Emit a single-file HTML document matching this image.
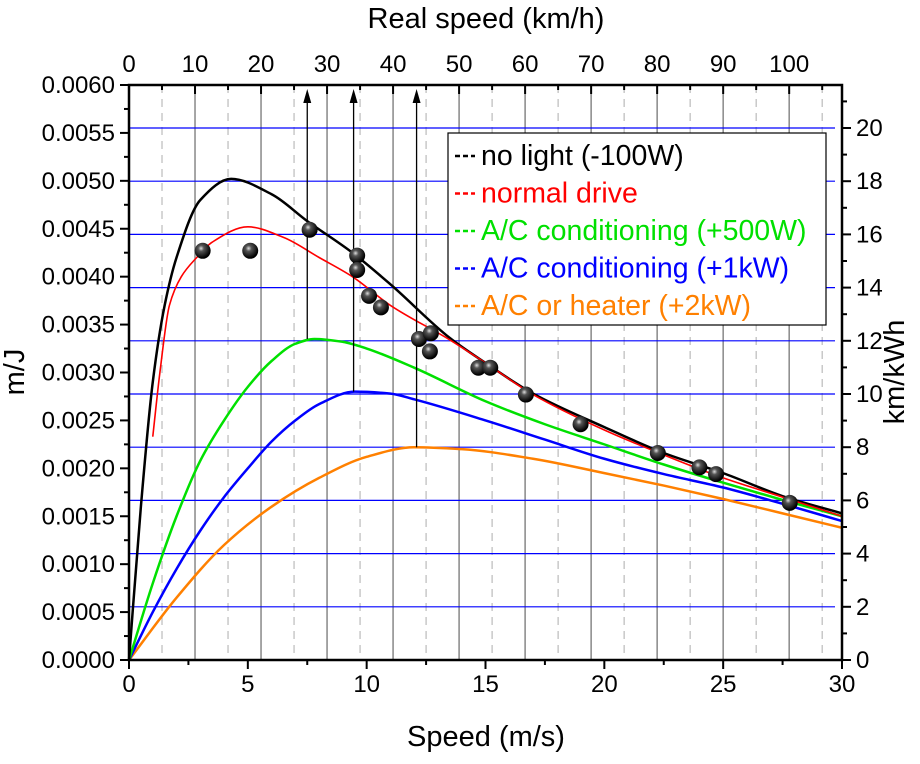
<!DOCTYPE html>
<html><head><meta charset="utf-8"><style>
body{margin:0;background:#fff;font-family:"Liberation Sans",Arial,sans-serif}
svg text{font-family:"Liberation Sans",Arial,sans-serif}
</style></head><body>
<svg id="chart" width="920" height="759" xmlns="http://www.w3.org/2000/svg">
<g id="grid"></g><g id="curves"></g><g id="points"></g><g id="axes"></g>
</svg>
<script>
const blackX=[0,0.5,1,1.5,2,3,4.3,6,7.5,9.4,11,13.5,15,17,20,22.5,25,27.5,30];
const blackY=[0,0.0016,0.0029,0.0037,0.0042,0.0048,0.00502,0.00486,0.00458,0.00425,0.00392,0.00336,0.0031,0.00278,0.00243,0.00216,0.00195,0.00171,0.00153];
const redX=[1,1.3,1.7,2.2,2.85,3.5,5.0,6.5,8,9.4,11,13.5,15,17,20,22.5,25,27.5,30];
const redY=[0.00233,0.0030,0.0037,0.0040,0.0042,0.00436,0.00452,0.00441,0.0042,0.0040,0.0037,0.00334,0.0031,0.00277,0.0024,0.00214,0.0019,0.0017,0.0015];
const greenX=[0,1,2,3,4,5,6,7,7.8,9,10,12,15,17.5,20,22.5,25,27.5,30];
const greenY=[0,0.0008,0.0015,0.00208,0.0025,0.00285,0.00312,0.0033,0.00335,0.00332,0.00325,0.00305,0.0027,0.00246,0.00225,0.00204,0.00185,0.00167,0.0015];
const blueX=[0,1,2,3,4,5,6,7,8,9.5,11,12,15,17.5,20,22.5,25,27.5,30];
const blueY=[0,0.0005,0.00095,0.00135,0.0017,0.002,0.00228,0.0025,0.00267,0.0028,0.00278,0.00272,0.0025,0.0023,0.0021,0.00194,0.0018,0.00163,0.00145];
const orangeX=[0,2,4,6,8,10,12,14,17,20,22.5,25,27.5,30];
const orangeY=[0,0.00065,0.0012,0.0016,0.0019,0.00212,0.00222,0.0022,0.0021,0.00195,0.00182,0.00168,0.00153,0.00138];
const ptX=[3.1,5.1,7.6,9.6,9.6,10.1,10.6,12.2,12.7,12.66,14.7,15.2,16.7,19.0,22.25,24.0,24.7,27.8];
const ptY=[0.00427,0.00427,0.00449,0.00422,0.00407,0.0038,0.00368,0.00335,0.00341,0.00322,0.00305,0.00305,0.00277,0.00246,0.00216,0.00201,0.00194,0.00164];
const arrowX=[7.5,9.45,12.1];
const arrowY=[0.00335,0.0028,0.00222];
const bottomTicks=[0,5,10,15,20,25,30];
const leftTicks=[0,0.0005,0.001,0.0015,0.002,0.0025,0.003,0.0035,0.004,0.0045,0.005,0.0055,0.006];
const rightTicks=[0,2,4,6,8,10,12,14,16,18,20];
const topTicks=[0,10,20,30,40,50,60,70,80,90,100];

const X0=129,X1=842,Y0=660,Y1=85;
const sx=v=>X0+(X1-X0)*v/30;
const sy=v=>Y0-(Y0-Y1)*v/0.006;
const sk=v=>sx(v/3.6);
const sr=v=>Y0-(Y0-128)*v/20;
const NS="http://www.w3.org/2000/svg";
function mk(tag,attrs,parent){const e=document.createElementNS(NS,tag);for(const k in attrs)e.setAttribute(k,attrs[k]);parent.appendChild(e);return e;}
const grid=document.getElementById('grid'),curves=document.getElementById('curves'),pts=document.getElementById('points'),axes=document.getElementById('axes');

for(let k=5;k<108;k+=5){const x=sk(k);const major=k%10===0;
 const l=mk('line',{x1:x,x2:x,y1:Y1,y2:Y0,stroke:major?'#888':'#bbb','stroke-width':major?1.5:1.2,'stroke-dasharray':major?'':'8,6'},grid);
 
 }
rightTicks.forEach(v=>{if(v===0)return;const y=sr(v);
 const l=mk('line',{x1:X0,x2:835,y1:y,y2:y,stroke:'#0000ff','stroke-width':1.2},grid);
 
 });

function smooth(xs,ys){const p=xs.map((x,i)=>[sx(x),sy(ys[i])]);const n=p.length;
 const d=[];for(let i=0;i<n-1;i++)d.push((p[i+1][1]-p[i][1])/(p[i+1][0]-p[i][0]));
 const m=[];m[0]=d[0];m[n-1]=d[n-2];
 for(let i=1;i<n-1;i++){if(d[i-1]*d[i]<=0)m[i]=0;else{const h0=p[i][0]-p[i-1][0],h1=p[i+1][0]-p[i][0];const w1=2*h1+h0,w2=h1+2*h0;m[i]=(w1+w2)/(w1/d[i-1]+w2/d[i]);}}
 let s='M'+p[0][0]+','+p[0][1];
 for(let i=0;i<n-1;i++){const h=p[i+1][0]-p[i][0];
  s+=` C${p[i][0]+h/3},${p[i][1]+m[i]*h/3} ${p[i+1][0]-h/3},${p[i+1][1]-m[i+1]*h/3} ${p[i+1][0]},${p[i+1][1]}`;}
 return s;}
const series=[[orangeX,orangeY,'#ff8000','orange-curve',2.5],[blueX,blueY,'#0000ff','blue-curve',2.5],[greenX,greenY,'#00e000','green-curve',2.5],[blackX,blackY,'#000','black-curve',2.5],[redX,redY,'#ff0000','red-curve',1.6]];
series.forEach(s=>{const p=mk('path',{d:smooth(s[0],s[1]),fill:'none',stroke:s[2],'stroke-width':s[4]},curves);
 
 });
arrowX.forEach((v,i)=>{const x=sx(v);
 const l=mk('line',{x1:x,x2:x,y1:sy(arrowY[i]),y2:100,stroke:'#000','stroke-width':1.3},curves);
 
 
 const h=mk('polygon',{points:`${x-4},103 ${x+4},103 ${x},89`,fill:'#000'},curves);
 
 });
const defs=mk('defs',{},pts);
const rg=mk('radialGradient',{id:'ball',cx:'0.4',cy:'0.35',r:'0.6'},defs);
mk('stop',{offset:'0','stop-color':'#ddd'},rg);mk('stop',{offset:'0.3','stop-color':'#555'},rg);mk('stop',{offset:'1','stop-color':'#000'},rg);
ptX.forEach((v,i)=>{const c=mk('circle',{cx:sx(v),cy:sy(ptY[i]),r:8,fill:'url(#ball)'},pts);
 
 });

const fr=mk('rect',{x:X0,y:Y1,width:X1-X0,height:Y0-Y1,fill:'none',stroke:'#000','stroke-width':2.5},axes);


function txt(x,y,s,anchor,size,name,extra){const t=mk('text',Object.assign({x:x,y:y,'text-anchor':anchor,'font-size':size,fill:'#000'},extra||{}),axes);t.textContent=s;
 
 return t;}
for(let v=0;v<=30;v+=2.5){const x=sx(v);const major=v%5===0;mk('line',{x1:x,x2:x,y1:Y0,y2:Y0+(major?9:5),stroke:'#000','stroke-width':2},axes);}
bottomTicks.forEach(v=>txt(sx(v),Y0+32,String(v),'middle',24,'x-tick-label'));
txt(486,746,'Speed (m/s)','middle',29,'x-axis-title');
for(let v=0;v<=0.006001;v+=0.00025){const y=sy(v);const major=Math.round(v/0.00025)%2===0;mk('line',{x1:X0,x2:X0-(major?9:5),y1:y,y2:y,stroke:'#000','stroke-width':2},axes);}
leftTicks.forEach(v=>txt(X0-14,sy(v)+8,v.toFixed(4),'end',24,'y-tick-label'));
txt(24,372,'m/J','middle',29,'y-axis-title',{transform:'rotate(-90 24 372)'});
for(let v=0;v<=21;v++){const y=sr(v);const major=v%2===0;mk('line',{x1:X1,x2:X1+(major?9:5),y1:y,y2:y,stroke:'#000','stroke-width':2},axes);}
rightTicks.forEach(v=>txt(X1+14,sr(v)+8,String(v),'start',24,'right-tick-label'));
txt(904,372,'km/kWh','middle',29,'right-axis-title',{transform:'rotate(-90 904 372)'});
for(let k=0;k<=105;k+=5){const x=sk(k);const major=k%10===0;mk('line',{x1:x,x2:x,y1:Y1,y2:Y1+(major?9:5),stroke:'#000','stroke-width':2},axes);}
topTicks.forEach(v=>txt(sk(v),72,String(v),'middle',24,'top-tick-label'));
txt(486,28,'Real speed (km/h)','middle',29,'top-axis-title');
const lg=mk('rect',{x:448,y:133,width:378,height:192,fill:'#fff',stroke:'#000','stroke-width':1.2},axes);


const legendText=['no light (-100W)','normal drive','A/C conditioning (+500W)','A/C conditioning (+1kW)','A/C or heater (+2kW)'];
const legendColor=['#000','#ff0000','#00e000','#0000ff','#ff8000'];
legendText.forEach((s,i)=>{const y=165+i*37.5;
 const l=mk('line',{x1:455,x2:475,y1:y-9,y2:y-9,stroke:legendColor[i],'stroke-width':2.5,'stroke-dasharray':'5,3'},axes);
 
 
 txt(481,y,s,'start',28.5,'legend-entry',{fill:legendColor[i]});});
</script>
</body></html>
